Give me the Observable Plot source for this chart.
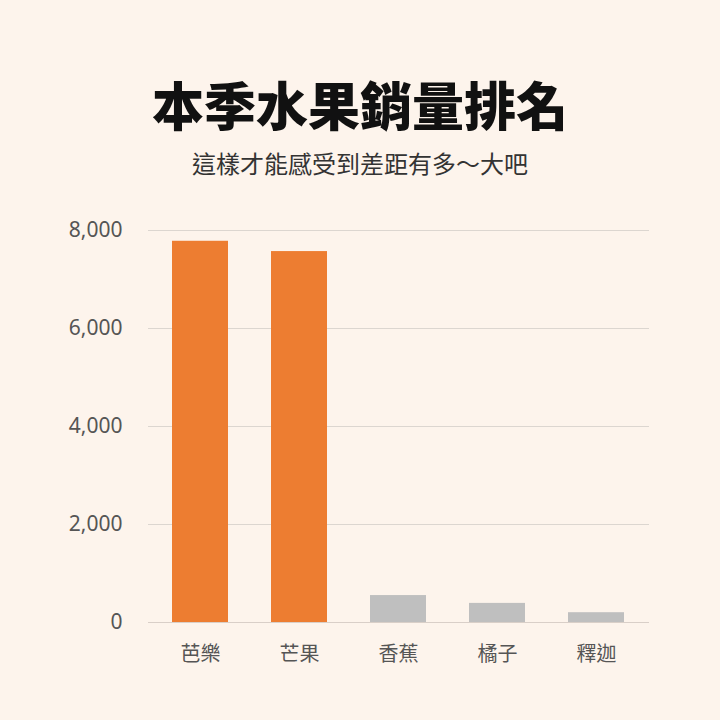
<!DOCTYPE html>
<html><head><meta charset="utf-8">
<script src="https://cdn.jsdelivr.net/npm/d3@7"></script>
<script src="https://cdn.jsdelivr.net/npm/@observablehq/plot@0.6"></script>
<style>
html,body{margin:0;padding:0;background:#fdf4ec;width:720px;height:720px;overflow:hidden;}
#wrap{position:relative;width:720px;height:720px;font-family:"Noto Sans CJK TC","Noto Sans",sans-serif;}
#title{position:absolute;left:0;width:720px;top:72px;text-align:center;font-size:52px;line-height:64px;font-weight:900;color:#111;}
#sub{position:absolute;left:0;width:720px;top:147px;text-align:center;font-size:24px;line-height:32px;font-weight:400;color:#333;}
#chart{position:absolute;left:0;top:200px;}
</style></head>
<body><div id="wrap">
<div id="title">本季水果銷量排名</div>
<div id="sub">這樣才能感受到差距有多～大吧</div>
<div id="chart"></div>
</div>
<script>
const fruits = ["芭樂","芒果","香蕉","橘子","釋迦"];
const sales = [7780, 7570, 550, 390, 200];
const highlight = [true, true, false, false, false];
const yTicks = [0, 2000, 4000, 6000, 8000];

const data = fruits.map((f,i)=>({fruit:f, value:sales[i], hi:highlight[i]}));

const chart = Plot.plot({
  width: 720,
  height: 520,
  marginTop: 30,
  marginBottom: 98,
  marginLeft: 148,
  marginRight: 71,
  style: {background:"transparent", fontSize:"20px", fontFamily:"'Noto Sans','Noto Sans CJK TC',sans-serif"},
  x: {domain: fruits, paddingInner: 0.43, paddingOuter: 0.22, label: null},
  y: {domain: [0, 8000], label: null},
  marks: [
    Plot.ruleY(yTicks.filter(d=>d>0), {stroke:"#dcd6d0", strokeWidth:1}),
    Plot.barY(data, {x:"fruit", y:"value", fill: d => d.hi ? "#ed7d31" : "#bfbfbf"}),
    Plot.ruleY([0], {stroke:"#d9cfc8", strokeWidth:1}),
    Plot.axisY({ticks: yTicks, tickFormat: d3.format(","), tickSize: 0, tickPadding: 26, fill:"#555"}),
    Plot.axisX({tickSize: 0, tickPadding: 24, fill:"#555"})
  ]
});
d3.select(chart).selectAll('[aria-label="y-axis tick label"]').style("font-size","21px");
d3.select(chart).selectAll('[aria-label="x-axis tick label"]').style("font-size","20px").style("font-family","'Noto Sans CJK TC',sans-serif");
document.getElementById("chart").appendChild(chart);
</script>
</body></html>
